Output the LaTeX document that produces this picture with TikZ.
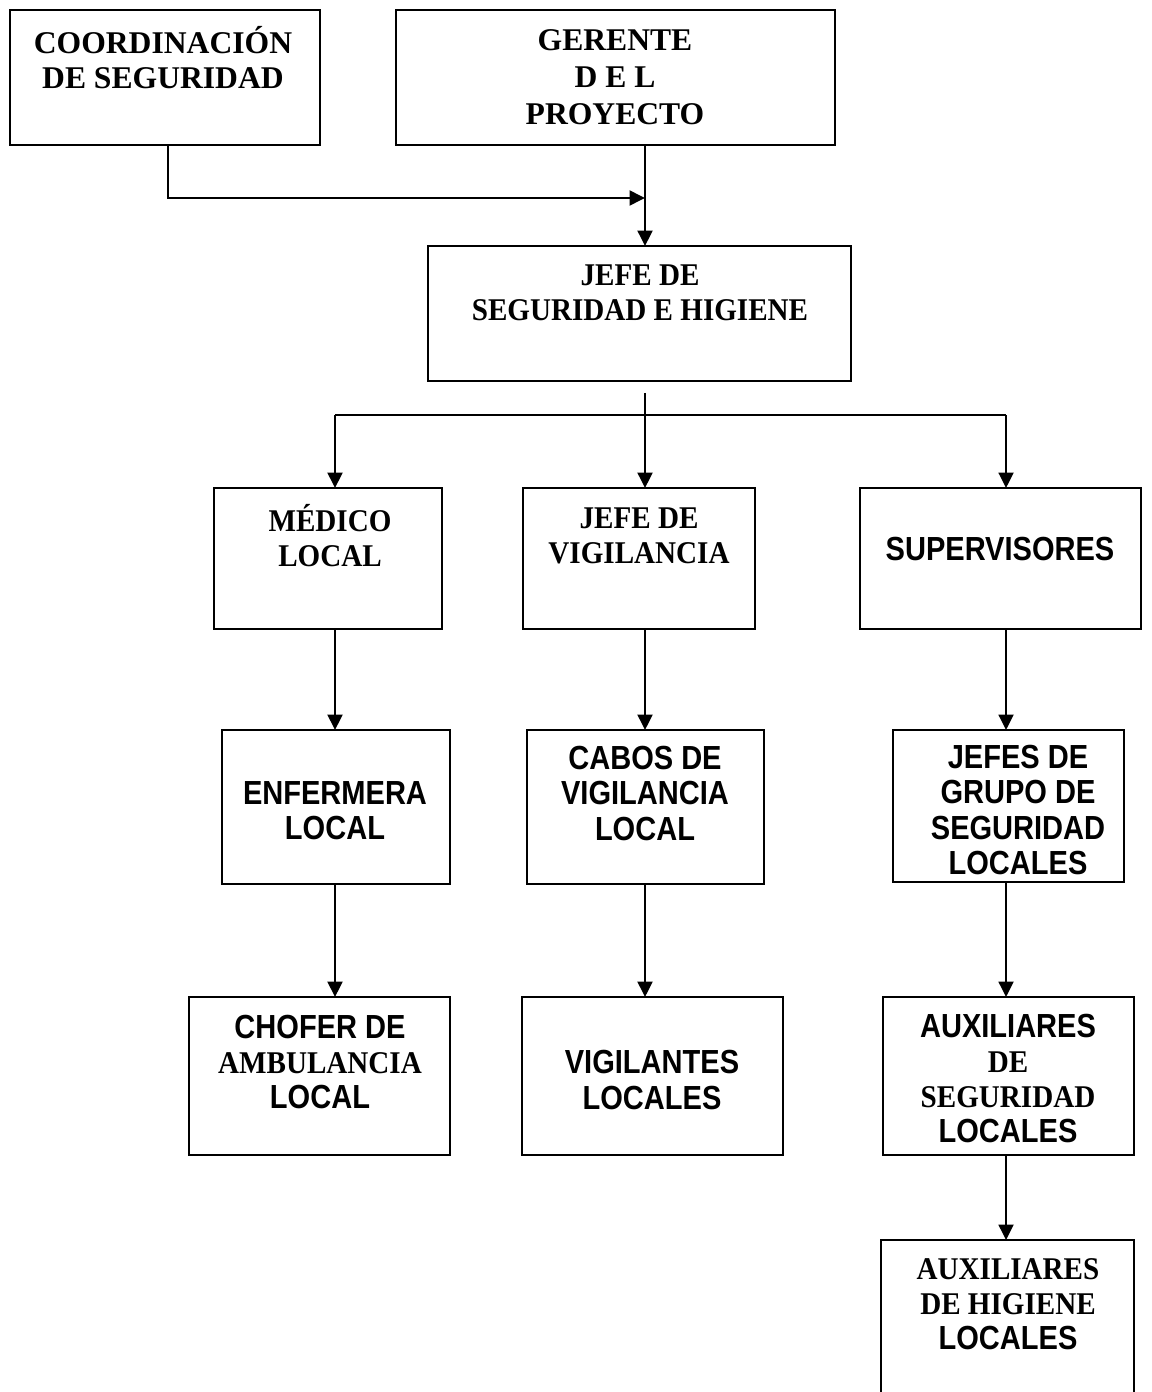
\documentclass[tikz,border=0pt]{standalone}
\usepackage{fontspec}
\setmainfont{Liberation Serif}
\newfontfamily\hvsans[FakeStretch=0.87]{Liberation Sans}
\newfontfamily\tmnarrow[FakeStretch=0.92]{Liberation Serif}
\newcommand{\srf}{\rmfamily\bfseries\fontsize{18}{20}\selectfont}
\newcommand{\srn}{\tmnarrow\bfseries\fontsize{18}{20}\selectfont}
\newcommand{\sns}{\hvsans\bfseries\fontsize{19}{20}\selectfont}
\usetikzlibrary{arrows.meta,positioning,calc}

\begin{document}
\begin{tikzpicture}[x=0.02cm, y=-0.02cm,
    box/.style={draw, line width=1.5pt, inner sep=0pt, outer sep=0pt},
    lbl/.style={align=center, inner sep=0pt, font=\srn},
    link/.style={line width=1.1pt},
    arr/.style={link, -{Triangle[length=0.31cm,width=0.3cm]}}]
    \useasboundingbox (0,0) rectangle (1152,1392);

    % columns and joints
    \coordinate (colA) at (335,0);
    \coordinate (colB) at (645,0);
    \coordinate (colC) at (1006,0);
    \coordinate (mrg) at (645,198);
    \coordinate (bus) at (645,415);

    % top row
    \node[box, minimum width=6.2cm, minimum height=2.7cm] (coord) at (165,77.5) {};
    \node[lbl, font=\srf] (coordT) at (163,58) {COORDINACIÓN\\DE SEGURIDAD};
    \node[box, minimum width=8.78cm, minimum height=2.7cm] (ger) at (615.5,77.5) {};
    \node[lbl, font=\srf] (gerT) at (615,77) {GERENTE\\[1pt]D E L\\[1pt]PROYECTO};

    % jefe de seguridad
    \node[box, minimum width=8.46cm, minimum height=2.7cm] (jefe) at (639.5,313.5) {};
    \node[lbl] (jefeT) at (640,292.5) {JEFE DE\\SEGURIDAD E HIGIENE};

    % second row
    \node[box, minimum width=4.56cm, minimum height=2.82cm] (med) at (328,558.5) {};
    \node[lbl] (medT) at (330,535.5) {MÉDICO\\LOCAL};
    \node[box, minimum width=4.64cm, minimum height=2.82cm] (jvig) at (639,558.5) {};
    \node[lbl] (jvigT) at (639,535.5) {JEFE DE\\VIGILANCIA};
    \node[box, minimum width=5.62cm, minimum height=2.82cm] (sup) at (1000.5,558.5) {};
    \node[lbl, font=\sns] (supT) at (1000,549) {SUPERVISORES};

    % third row
    \node[box, minimum width=4.56cm, minimum height=3.08cm] (enf) at (336,807) {};
    \node[lbl, font=\sns] (enfT) at (335,810.5) {ENFERMERA\\LOCAL};
    \node[box, minimum width=4.74cm, minimum height=3.08cm] (cab) at (645.5,807) {};
    \node[lbl, font=\sns] (cabT) at (645,793.5) {CABOS DE\\VIGILANCIA\\LOCAL};
    \node[box, minimum width=4.62cm, minimum height=3.04cm] (jgr) at (1008.5,806) {};
    \node[lbl, font=\sns] (jgrT) at (1018,810) {JEFES DE\\GRUPO DE\\SEGURIDAD\\LOCALES};

    % fourth row
    \node[box, minimum width=5.22cm, minimum height=3.16cm] (cho) at (319.5,1076) {};
    \node[lbl] (choT) at (320,1062) {{\sns CHOFER DE}\\AMBULANCIA\\{\sns LOCAL}};
    \node[box, minimum width=5.22cm, minimum height=3.16cm] (vig) at (652.5,1076) {};
    \node[lbl, font=\sns] (vigT) at (652,1080) {VIGILANTES\\LOCALES};
    \node[box, minimum width=5.02cm, minimum height=3.16cm] (aux) at (1008.5,1076) {};
    \node[lbl] (auxT) at (1008,1078.5) {{\sns AUXILIARES}\\DE\\SEGURIDAD\\{\sns LOCALES}};

    % last box, running off the page
    \node[box, minimum width=5.06cm, minimum height=3.4cm] (auh) at (1007.5,1325) {};
    \node[lbl] (auhT) at (1008,1304) {AUXILIARES\\DE HIGIENE\\{\sns LOCALES}};

    % connectors
    \draw[arr] (coord.south -| 168,0) |- (mrg);
    \draw[arr] (ger.south -| colB) -- (jefe.north -| colB);
    \draw[link, shorten <=0.24cm] (jefe.south -| colB) -- (bus);
    \draw[link] (bus -| colA) -- (bus -| colC);
    \draw[arr] (bus -| colA) -- (med.north -| colA);
    \draw[arr] (bus) -- (jvig.north -| colB);
    \draw[arr] (bus -| colC) -- (sup.north -| colC);

    \draw[arr] (med.south -| colA) -- (enf.north -| colA);
    \draw[arr] (enf.south -| colA) -- (cho.north -| colA);
    \draw[arr] (jvig.south -| colB) -- (cab.north -| colB);
    \draw[arr] (cab.south -| colB) -- (vig.north -| colB);
    \draw[arr] (sup.south -| colC) -- (jgr.north -| colC);
    \draw[arr] (jgr.south -| colC) -- (aux.north -| colC);
    \draw[arr] (aux.south -| colC) -- (auh.north -| colC);
\end{tikzpicture}
\end{document}
